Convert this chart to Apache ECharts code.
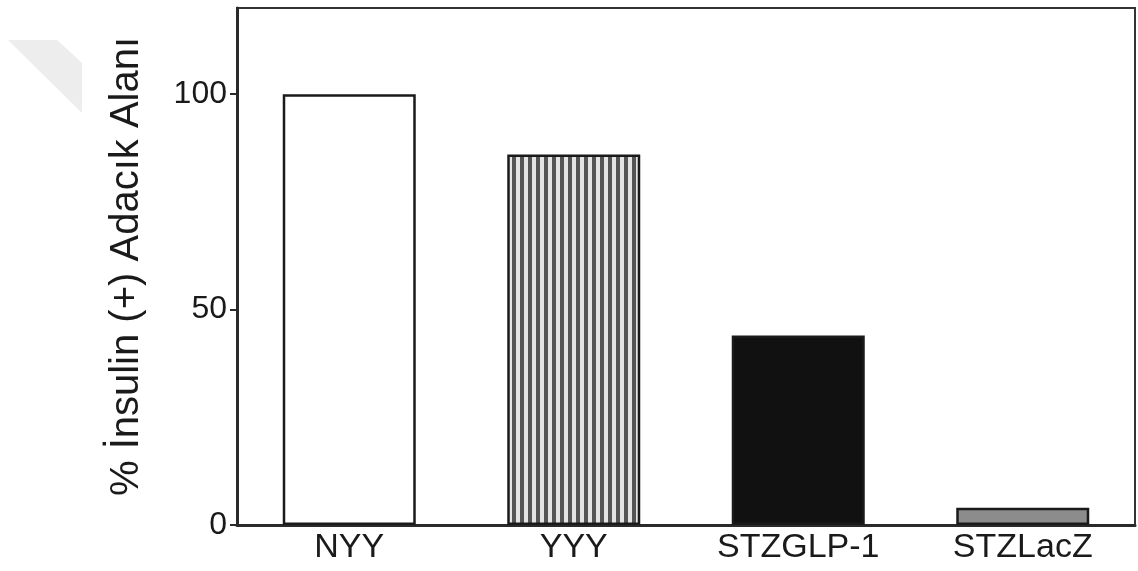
<!DOCTYPE html>
<html>
<head>
<meta charset="utf-8">
<script src="https://cdn.jsdelivr.net/npm/echarts@6/dist/echarts.min.js"></script>
<style>
  html, body { margin: 0; padding: 0; background: #fff; }
  #chart { width: 1138px; height: 571px; }
</style>
</head>
<body>
<div id="chart"></div>
<script>
// Islet area positive for insulin, per group
const categories = ['NYY', 'YYY', 'STZGLP-1', 'STZLacZ'];
const values = [100, 86, 44, 4];
const yTicks = [0, 50, 100];
const yAxisTitle = '% İnsulin (+) Adacık Alanı';

const FONT = '"Liberation Sans", Arial, Helvetica, sans-serif';
const INK = '#1a1a1a';

// vertical stripe fill for the YYY bar
function stripePattern() {
  const c = document.createElement('canvas');
  c.width = 8; c.height = 8;
  const g = c.getContext('2d');
  g.fillStyle = '#e4e4e4';
  g.fillRect(0, 0, 8, 8);
  g.fillStyle = '#555555';
  g.fillRect(0, 0, 4, 8);
  return c;
}

const fills = ['#ffffff', { image: stripePattern(), repeat: 'repeat' }, '#111111', '#8c8c8c'];

const chart = echarts.init(document.getElementById('chart'), null, { renderer: 'canvas' });

chart.setOption({
  animation: false,
  backgroundColor: '#ffffff',
  grid: {
    left: 237, right: 3, top: 8, bottom: 46,
    show: true, borderColor: '#333', borderWidth: 2, backgroundColor: 'transparent'
  },
  graphic: [{
    type: 'polygon',
    shape: { points: [[8, 40], [57, 40], [82, 63], [82, 113]] },
    style: { fill: '#ededed' },
    z: -1
  }],
  xAxis: {
    type: 'category',
    data: categories,
    axisLine: { show: true, lineStyle: { color: '#2a2a2a', width: 3 } },
    axisTick: { show: false },
    axisLabel: { color: INK, fontSize: 34, fontFamily: FONT, margin: 6 },
    splitLine: { show: false }
  },
  yAxis: {
    type: 'value',
    min: 0, max: 120,
    name: yAxisTitle,
    nameLocation: 'middle',
    nameRotate: 90,
    nameGap: 90,
    nameTextStyle: { color: INK, fontSize: 40, fontFamily: FONT },
    axisLine: { show: true, lineStyle: { color: '#2a2a2a', width: 3 } },
    axisTick: { show: true, length: 7, customValues: yTicks, lineStyle: { color: '#2a2a2a', width: 2 } },
    axisLabel: { color: INK, fontSize: 32, fontFamily: FONT, margin: 10, customValues: yTicks },
    splitLine: { show: false }
  },
  series: [{
    type: 'bar',
    barWidth: 133,
    data: values.map((v, i) => ({
      value: v,
      itemStyle: { color: fills[i], borderColor: '#1a1a1a', borderWidth: 2.5 }
    }))
  }]
});
</script>
</body>
</html>
